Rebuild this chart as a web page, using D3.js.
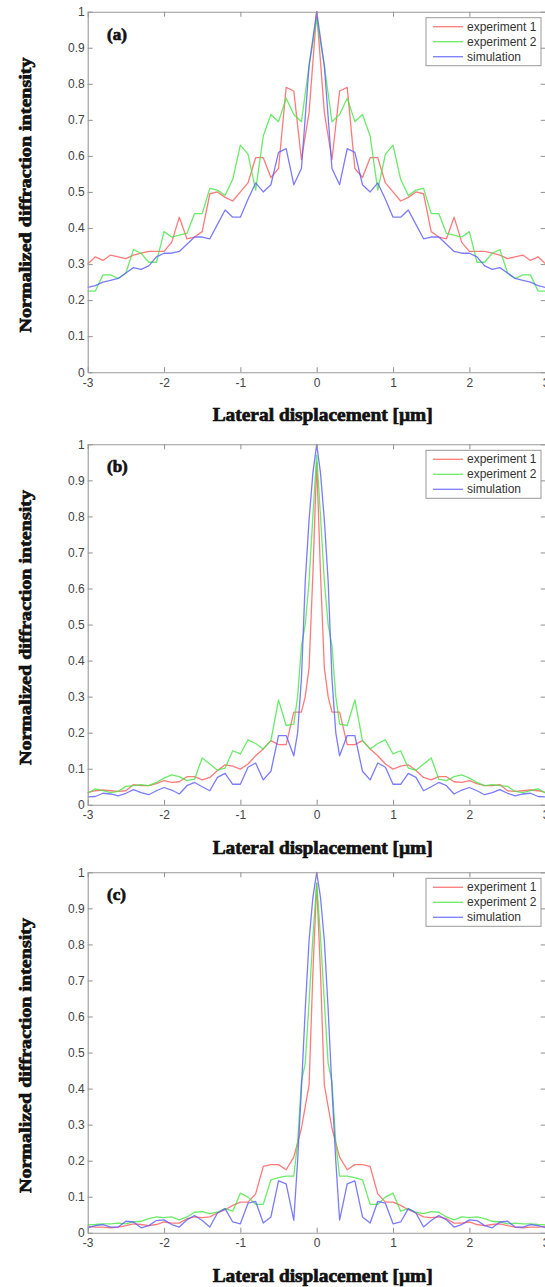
<!DOCTYPE html>
<html lang="en">
<head>
    <meta charset="UTF-8">
    <title>Normalized diffraction intensity vs lateral displacement</title>
    <script src="https://d3js.org/d3.v7.min.js"></script>
    <style>
        body {
            margin: 0;
            padding: 0;
            background-color: #fff;
        }
        svg {
            display: block;
        }
        .tick text {
            font-family: "Liberation Sans", Arial, sans-serif;
            font-size: 12px;
            fill: #444;
        }
        .axis path, .axis line {
            stroke: #999;
            stroke-width: 1.1;
        }
        .legend-text {
            font-family: "Liberation Sans", Arial, sans-serif;
            font-size: 12px;
            fill: #333;
        }
        .title {
            font-family: "Liberation Serif", "Times New Roman", serif;
            font-weight: bold;
            fill: #111;
            stroke: #111;
            stroke-width: 0.7;
        }
    </style>
</head>
<body>
    <div id="chart"></div>

    <script>
        // x positions of the samples [um], panel (a)
        const xA = [-3.0, -2.9, -2.8, -2.7, -2.6, -2.5, -2.4, -2.3, -2.2, -2.1,
                    -2.0, -1.9, -1.8, -1.7, -1.6, -1.5, -1.4, -1.3, -1.2, -1.1,
                    -1.0, -0.9, -0.8, -0.7, -0.6, -0.5, -0.4, -0.3, -0.2, -0.1,
                     0.0,
                     0.1, 0.2, 0.3, 0.4, 0.5, 0.6, 0.7, 0.8, 0.9, 1.0,
                     1.1, 1.2, 1.3, 1.4, 1.5, 1.6, 1.7, 1.8, 1.9, 2.0,
                     2.1, 2.2, 2.3, 2.4, 2.5, 2.6, 2.7, 2.8, 2.9, 3.0];
        // panels (b) and (c) have denser samples around the central peak
        const xBC = [-3.0, -2.9, -2.8, -2.7, -2.6, -2.5, -2.4, -2.3, -2.2, -2.1,
                     -2.0, -1.9, -1.8, -1.7, -1.6, -1.5, -1.4, -1.3, -1.2, -1.1,
                     -1.0, -0.9, -0.8, -0.7, -0.6, -0.5, -0.4, -0.3,
                     -0.25, -0.2, -0.15, -0.1, -0.05, 0.0, 0.05, 0.1, 0.15, 0.2, 0.25,
                     0.3, 0.4, 0.5, 0.6, 0.7, 0.8, 0.9, 1.0,
                     1.1, 1.2, 1.3, 1.4, 1.5, 1.6, 1.7, 1.8, 1.9, 2.0,
                     2.1, 2.2, 2.3, 2.4, 2.5, 2.6, 2.7, 2.8, 2.9, 3.0];

        // panel (a)
        const exp1A = [0.30, 0.32, 0.31, 0.325, 0.32, 0.315, 0.325, 0.33, 0.335, 0.335,
                       0.335, 0.36, 0.43, 0.37, 0.375, 0.39, 0.495, 0.50, 0.485, 0.475,
                       0.50, 0.525, 0.595, 0.595, 0.54, 0.565, 0.79, 0.78, 0.59, 0.72,
                       1.0,
                       0.72, 0.59, 0.78, 0.79, 0.565, 0.54, 0.595, 0.595, 0.525, 0.50,
                       0.475, 0.485, 0.50, 0.495, 0.39, 0.375, 0.37, 0.43, 0.36, 0.335,
                       0.335, 0.335, 0.33, 0.325, 0.315, 0.32, 0.325, 0.31, 0.32, 0.30];
        const exp2A = [0.225, 0.225, 0.27, 0.27, 0.26, 0.275, 0.34, 0.33, 0.305, 0.305,
                       0.39, 0.375, 0.38, 0.385, 0.44, 0.44, 0.51, 0.505, 0.49, 0.535,
                       0.63, 0.605, 0.505, 0.655, 0.715, 0.695, 0.76, 0.715, 0.695, 0.85,
                       0.98,
                       0.85, 0.695, 0.715, 0.76, 0.695, 0.715, 0.655, 0.505, 0.605, 0.63,
                       0.535, 0.49, 0.505, 0.51, 0.44, 0.44, 0.385, 0.38, 0.375, 0.39,
                       0.305, 0.305, 0.33, 0.34, 0.275, 0.26, 0.27, 0.27, 0.225, 0.225];
        const simA = [0.235, 0.24, 0.25, 0.255, 0.26, 0.275, 0.29, 0.285, 0.295, 0.32,
                      0.33, 0.33, 0.335, 0.355, 0.375, 0.375, 0.37, 0.41, 0.45, 0.43,
                      0.43, 0.48, 0.525, 0.50, 0.52, 0.61, 0.62, 0.52, 0.565, 0.85,
                      1.0,
                      0.85, 0.565, 0.52, 0.62, 0.61, 0.52, 0.50, 0.525, 0.48, 0.43,
                      0.43, 0.45, 0.41, 0.37, 0.375, 0.375, 0.355, 0.335, 0.33, 0.33,
                      0.32, 0.295, 0.285, 0.29, 0.275, 0.26, 0.255, 0.25, 0.24, 0.235];

        // panel (b)
        const exp1B = [0.034, 0.039, 0.041, 0.039, 0.037, 0.039, 0.056, 0.053, 0.053, 0.059,
                       0.067, 0.062, 0.064, 0.078, 0.078, 0.069, 0.076, 0.095, 0.111, 0.107,
                       0.099, 0.113, 0.136, 0.155, 0.178, 0.167, 0.167, 0.257,
                       0.257, 0.257, 0.30, 0.38, 0.64, 0.95, 0.64, 0.38, 0.30, 0.257, 0.257,
                       0.257, 0.167, 0.167, 0.178, 0.155, 0.136, 0.113, 0.099,
                       0.107, 0.111, 0.095, 0.076, 0.069, 0.078, 0.078, 0.064, 0.062, 0.067,
                       0.059, 0.053, 0.053, 0.056, 0.039, 0.037, 0.039, 0.041, 0.039, 0.034];
        const exp2B = [0.032, 0.044, 0.039, 0.034, 0.037, 0.051, 0.053, 0.056, 0.053, 0.062,
                       0.074, 0.083, 0.078, 0.067, 0.071, 0.13, 0.113, 0.096, 0.102, 0.15,
                       0.141, 0.18, 0.17, 0.155, 0.178, 0.291, 0.22, 0.224,
                       0.30, 0.44, 0.50, 0.62, 0.80, 0.97, 0.80, 0.62, 0.50, 0.44, 0.30,
                       0.224, 0.22, 0.291, 0.178, 0.155, 0.17, 0.18, 0.141,
                       0.15, 0.102, 0.096, 0.113, 0.13, 0.071, 0.067, 0.078, 0.083, 0.074,
                       0.062, 0.053, 0.056, 0.053, 0.051, 0.037, 0.034, 0.039, 0.044, 0.032];
        const simB = [0.022, 0.023, 0.032, 0.030, 0.025, 0.032, 0.042, 0.034, 0.028, 0.039,
                      0.048, 0.041, 0.030, 0.053, 0.062, 0.050, 0.039, 0.076, 0.087, 0.057,
                      0.057, 0.104, 0.116, 0.069, 0.093, 0.192, 0.192, 0.136,
                      0.20, 0.35, 0.62, 0.79, 0.92, 1.0, 0.92, 0.79, 0.62, 0.35, 0.20,
                      0.136, 0.192, 0.192, 0.093, 0.069, 0.116, 0.104, 0.057,
                      0.057, 0.087, 0.076, 0.039, 0.050, 0.062, 0.053, 0.030, 0.041, 0.048,
                      0.039, 0.028, 0.034, 0.042, 0.032, 0.025, 0.030, 0.032, 0.023, 0.022];

        // panel (c)
        const exp1C = [0.018, 0.016, 0.016, 0.014, 0.016, 0.020, 0.025, 0.023, 0.020, 0.023,
                       0.030, 0.027, 0.027, 0.039, 0.044, 0.042, 0.044, 0.055, 0.064, 0.076,
                       0.085, 0.085, 0.108, 0.184, 0.189, 0.189, 0.175, 0.21,
                       0.25, 0.29, 0.35, 0.41, 0.72, 0.97, 0.72, 0.41, 0.35, 0.29, 0.25,
                       0.21, 0.175, 0.189, 0.189, 0.184, 0.108, 0.085, 0.085,
                       0.076, 0.064, 0.055, 0.044, 0.042, 0.044, 0.039, 0.027, 0.027, 0.030,
                       0.023, 0.020, 0.023, 0.025, 0.020, 0.016, 0.014, 0.016, 0.016, 0.018];
        const exp2C = [0.022, 0.023, 0.025, 0.025, 0.027, 0.025, 0.030, 0.032, 0.039, 0.044,
                       0.042, 0.044, 0.036, 0.044, 0.057, 0.059, 0.053, 0.057, 0.067, 0.060,
                       0.110, 0.099, 0.079, 0.079, 0.147, 0.153, 0.157, 0.157,
                       0.25, 0.42, 0.47, 0.64, 0.82, 0.97, 0.82, 0.64, 0.47, 0.42, 0.25,
                       0.157, 0.157, 0.153, 0.147, 0.079, 0.079, 0.099, 0.110,
                       0.060, 0.067, 0.057, 0.053, 0.059, 0.057, 0.044, 0.036, 0.044, 0.042,
                       0.044, 0.039, 0.032, 0.030, 0.025, 0.027, 0.025, 0.025, 0.023, 0.022];
        const simC = [0.014, 0.020, 0.023, 0.016, 0.016, 0.032, 0.030, 0.014, 0.020, 0.034,
                      0.036, 0.023, 0.016, 0.036, 0.048, 0.034, 0.016, 0.055, 0.067, 0.030,
                      0.025, 0.082, 0.087, 0.027, 0.044, 0.144, 0.136, 0.035,
                      0.20, 0.40, 0.62, 0.81, 0.93, 1.0, 0.93, 0.81, 0.62, 0.40, 0.20,
                      0.035, 0.136, 0.144, 0.044, 0.027, 0.087, 0.082, 0.025,
                      0.030, 0.067, 0.055, 0.016, 0.034, 0.048, 0.036, 0.016, 0.023, 0.036,
                      0.034, 0.020, 0.014, 0.030, 0.032, 0.016, 0.016, 0.023, 0.020, 0.014];

        const panelLabels = ['(a)', '(b)', '(c)'];
        const seriesNames = ['experiment 1', 'experiment 2', 'simulation'];
        const seriesColors = ['#ff5a5a', '#45e645', '#5a5aff'];
        const xTicks = [-3, -2, -1, 0, 1, 2, 3];
        const xTickLabels = ['-3', '-2', '-1', '0', '1', '2', '3'];
        const yTicks = [0, 0.1, 0.2, 0.3, 0.4, 0.5, 0.6, 0.7, 0.8, 0.9, 1];
        const yTickLabels = ['0', '0.1', '0.2', '0.3', '0.4', '0.5', '0.6', '0.7', '0.8', '0.9', '1'];
        const xLabel = 'Lateral displacement [\u00b5m]';
        const yLabel = 'Normalized diffraction intensity';

        const panels = [
            { label: panelLabels[0], xs: xA, series: [exp1A, exp2A, simA] },
            { label: panelLabels[1], xs: xBC, series: [exp1B, exp2B, simB] },
            { label: panelLabels[2], xs: xBC, series: [exp1C, exp2C, simC] }
        ];

        const width = 545, height = 1287;
        const plotLeft = 87.7, plotRight = 545.7, plotH = 360.5;
        const panelTops = [11.7, 444.3, 872.3];

        const svg = d3.select('#chart')
            .append('svg')
            .attr('width', width)
            .attr('height', height);

        const xScale = d3.scaleLinear().domain([-3, 3]).range([plotLeft, plotRight]);

        panels.forEach((panel, p) => {
            const top = panelTops[p];
            const yScale = d3.scaleLinear().domain([0, 1]).range([top + plotH, top]);
            const g = svg.append('g');

            // lines (simulation drawn last, on top)
            const line = d3.line()
                .x((d, i) => xScale(panel.xs[i]))
                .y(d => yScale(d));

            panel.series.forEach((s, k) => {
                g.append('path')
                    .datum(s)
                    .attr('fill', 'none')
                    .attr('stroke', seriesColors[k])
                    .attr('stroke-width', 1.3)
                    .attr('stroke-opacity', 0.8)
                    .attr('stroke-linejoin', 'round')
                    .attr('d', line);
            });

            // box axes with inward ticks
            g.append('g')
                .attr('class', 'axis')
                .attr('transform', `translate(0, ${top + plotH})`)
                .call(d3.axisBottom(xScale).tickValues(xTicks).tickFormat((d, i) => xTickLabels[i])
                    .tickSizeInner(-5).tickSizeOuter(0).tickPadding(6));
            g.append('g')
                .attr('class', 'axis')
                .attr('transform', `translate(0, ${top})`)
                .call(d3.axisTop(xScale).tickValues(xTicks).tickSizeInner(-5).tickSizeOuter(0).tickFormat(''));
            g.append('g')
                .attr('class', 'axis')
                .attr('transform', `translate(${plotLeft}, 0)`)
                .call(d3.axisLeft(yScale).tickValues(yTicks).tickFormat((d, i) => yTickLabels[i])
                    .tickSizeInner(-5).tickSizeOuter(0).tickPadding(3));
            g.append('g')
                .attr('class', 'axis')
                .attr('transform', `translate(${plotRight}, 0)`)
                .call(d3.axisRight(yScale).tickValues(yTicks).tickSizeInner(-5).tickSizeOuter(0).tickFormat(''));

            // panel label
            g.append('text')
                .attr('class', 'title')
                .attr('x', 107)
                .attr('y', top + 28)
                .style('font-size', '17px')
                .text(panel.label);

            // legend
            const lg = g.append('g').attr('transform', `translate(426, ${top + 6})`);
            lg.append('rect')
                .attr('width', 115)
                .attr('height', 48)
                .attr('fill', '#fff')
                .attr('stroke', '#999')
                .attr('stroke-width', 1);
            seriesNames.forEach((name, k) => {
                const yy = 9 + k * 15;
                lg.append('line')
                    .attr('x1', 7).attr('x2', 37)
                    .attr('y1', yy).attr('y2', yy)
                    .attr('stroke', seriesColors[k])
                    .attr('stroke-width', 1.3)
                    .attr('stroke-opacity', 0.8);
                lg.append('text')
                    .attr('class', 'legend-text')
                    .attr('x', 41)
                    .attr('y', yy + 4)
                    .text(name);
            });

            // axis titles
            g.append('text')
                .attr('class', 'title')
                .attr('x', 322.7)
                .attr('y', top + plotH + 49)
                .attr('text-anchor', 'middle')
                .attr('textLength', 220)
                .attr('lengthAdjust', 'spacingAndGlyphs')
                .style('font-size', '19px')
                .text(xLabel);

            g.append('text')
                .attr('class', 'title')
                .attr('transform', `translate(31, ${top + plotH / 2 + 3}) rotate(-90)`)
                .attr('text-anchor', 'middle')
                .attr('textLength', 275)
                .attr('lengthAdjust', 'spacingAndGlyphs')
                .style('font-size', '17px')
                .text(yLabel);
        });
    </script>
</body>
</html>
